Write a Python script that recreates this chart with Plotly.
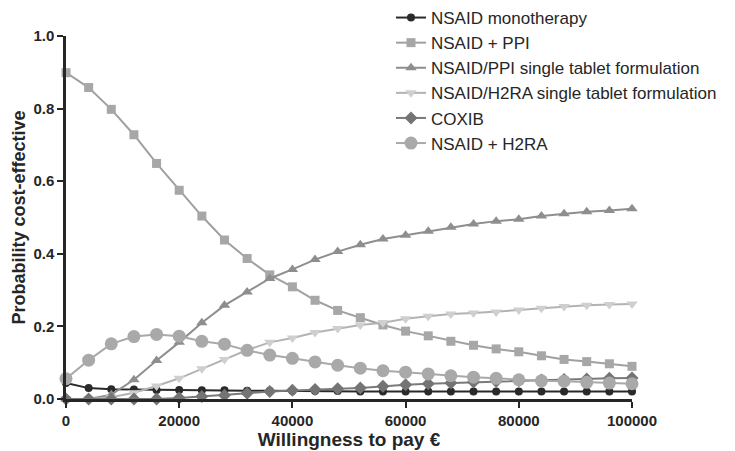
import plotly.graph_objects as go

# Willingness-to-pay thresholds (EUR)
wtp = list(range(0, 100001, 4000))

# Probability that each strategy is cost-effective at each threshold
nsaid_mono = [0.044, 0.030, 0.027, 0.026, 0.025, 0.025, 0.024, 0.024, 0.023, 0.023,
              0.022, 0.022, 0.022, 0.021, 0.021, 0.021, 0.021, 0.021, 0.021, 0.021,
              0.021, 0.021, 0.021, 0.021, 0.021, 0.021]
nsaid_ppi = [0.899, 0.858, 0.798, 0.728, 0.649, 0.575, 0.504, 0.438, 0.387, 0.342,
             0.309, 0.272, 0.244, 0.224, 0.204, 0.187, 0.174, 0.159, 0.148, 0.138,
             0.130, 0.119, 0.109, 0.103, 0.097, 0.090]
nsaid_ppi_stf = [0.0, 0.0, 0.012, 0.053, 0.106, 0.156, 0.210, 0.258, 0.295, 0.332,
                 0.357, 0.384, 0.406, 0.425, 0.441, 0.451, 0.462, 0.473, 0.482, 0.490,
                 0.495, 0.504, 0.510, 0.516, 0.519, 0.524]
nsaid_h2ra_stf = [0.0, 0.0, 0.005, 0.017, 0.036, 0.057, 0.083, 0.109, 0.135, 0.156,
                  0.168, 0.183, 0.194, 0.204, 0.210, 0.221, 0.228, 0.234, 0.237, 0.240,
                  0.245, 0.250, 0.255, 0.258, 0.260, 0.262]
coxib = [0.0, 0.0, 0.0, 0.0, 0.0, 0.003, 0.007, 0.010, 0.016, 0.021,
         0.024, 0.026, 0.028, 0.030, 0.035, 0.039, 0.042, 0.044, 0.047, 0.049,
         0.050, 0.052, 0.054, 0.055, 0.057, 0.058]
nsaid_h2ra = [0.056, 0.107, 0.152, 0.172, 0.178, 0.173, 0.159, 0.151, 0.134, 0.121,
              0.112, 0.102, 0.093, 0.085, 0.078, 0.074, 0.069, 0.064, 0.060, 0.057,
              0.053, 0.050, 0.049, 0.046, 0.044, 0.042]

x_ticks = [0, 20000, 40000, 60000, 80000, 100000]
y_ticks = [0.0, 0.2, 0.4, 0.6, 0.8, 1.0]

series = [
    ("NSAID monotherapy", nsaid_mono, "circle", 8, "#2a2a2a", "#2a2a2a"),
    ("NSAID + PPI", nsaid_ppi, "square", 9, "#a7a7a7", "#a0a0a0"),
    ("NSAID/PPI single tablet formulation", nsaid_ppi_stf, "triangle-up", 10, "#8e8e8e", "#8e8e8e"),
    ("NSAID/H2RA single tablet formulation", nsaid_h2ra_stf, "triangle-down", 10, "#cfcfcf", "#b3b3b3"),
    ("COXIB", coxib, "diamond", 10, "#747474", "#7a7a7a"),
    ("NSAID + H2RA", nsaid_h2ra, "circle", 13, "#a9a9a9", "#a9a9a9"),
]

FONT = "Liberation Sans, Arial, sans-serif"

fig = go.Figure()
for name, vals, sym, size, mcol, lcol in series:
    fig.add_trace(go.Scatter(
        x=wtp, y=vals, name=name, mode="lines+markers",
        line=dict(color=lcol, width=2),
        marker=dict(symbol=sym, size=size, color=mcol, line=dict(width=0)),
        cliponaxis=False,
    ))

axis_common = dict(
    showgrid=False, zeroline=False, showline=True,
    linecolor="#262626", linewidth=2.5,
    ticks="outside", ticklen=6, tickwidth=2, tickcolor="#262626",
    tickfont=dict(family=FONT, size=15, color="#262626", weight="bold"),
)

fig.update_layout(
    width=735, height=451,
    margin=dict(l=66, r=103, t=36, b=52, autoexpand=False),
    paper_bgcolor="white", plot_bgcolor="white",
    font=dict(family=FONT, color="#262626"),
    xaxis=dict(
        range=[0, 100000], tickvals=x_ticks, ticktext=[str(v) for v in x_ticks],
        title=dict(text="Willingness to pay €", standoff=5,
                   font=dict(family=FONT, size=19, color="#262626", weight="bold")),
        **axis_common,
    ),
    yaxis=dict(
        range=[0, 1.0], tickvals=y_ticks, ticktext=[f"{v:.1f}" for v in y_ticks],
        title=dict(text="Probability cost-effective", standoff=4,
                   font=dict(family=FONT, size=18, color="#262626", weight="bold")),
        **axis_common,
    ),
    legend=dict(
        xref="container", yref="container",
        x=391 / 735, y=1.0, xanchor="left", yanchor="top",
        font=dict(family=FONT, size=17, color="#262626"),
        bgcolor="rgba(0,0,0,0)", tracegroupgap=0,
    ),
)

fig.write_html("out.html")
